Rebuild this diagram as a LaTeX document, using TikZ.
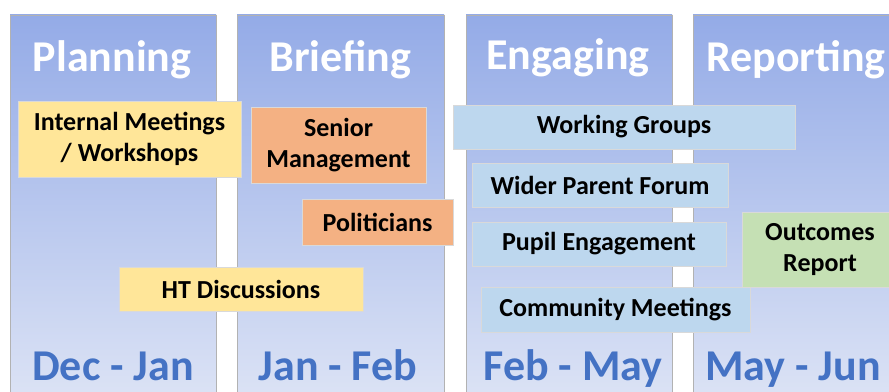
\documentclass[tikz,border=0pt]{standalone}
\usepackage{fontspec}
\setmainfont{Carlito}
\usepackage{tikz}
\definecolor{coltop}{HTML}{94ABE7}
\definecolor{colbot}{HTML}{DCE3F5}
\definecolor{yellowbox}{HTML}{FFE699}
\definecolor{orangebox}{HTML}{F4B183}
\definecolor{bluebox}{HTML}{BDD7EE}
\definecolor{greenbox}{HTML}{C5E0B4}
\definecolor{monthblue}{HTML}{4472C4}

\begin{document}
\begin{tikzpicture}[x=0.75pt,y=-0.75pt,
	phase/.style={draw=black!30,line width=0.4pt,top color=coltop,bottom color=colbot},
	head/.style={anchor=base,text=white,font=\bfseries\fontsize{33}{36}\selectfont},
	months/.style={anchor=base,text=monthblue,font=\bfseries\fontsize{33}{36}\selectfont},
	task/.style={draw=black!15,line width=0.3pt,align=center,inner sep=0pt,
		font=\bfseries\fontsize{19.5}{23.3}\selectfont}]
	\useasboundingbox (0,0) rectangle (889,392);
	\clip (0,0) rectangle (889,392);
	\fill[white] (0,0) rectangle (889,392);
	\draw[phase] (10,15) rectangle (216,400);
	\draw[phase] (237,15) rectangle (444,400);
	\draw[phase] (466,15) rectangle (672,400);
	\draw[phase] (693,15) rectangle (899,400);
	\node[head] (planning) at (112,72) {Planning};
	\node[head] (briefing) at (340.5,72) {Briefing};
	\node[head] (engaging) at (568,70) {Engaging};
	\node[head] (reporting) at (796,72) {Reporting};
	\node[months] (decjan) at (113,380) {Dec - Jan};
	\node[months] (janfeb) at (338,380) {Jan - Feb};
	\node[months] (febmay) at (573,380) {Feb - May};
	\node[months] (mayjun) at (793,380) {May - Jun};
	\node[task,fill=yellowbox,minimum width=223*0.75pt,minimum height=76*0.75pt] (internal) at (129.5,139) {Internal Meetings\\/ Workshops};
	\node[task,fill=orangebox,minimum width=175*0.75pt,minimum height=76*0.75pt] (senior) at (338.5,145) {Senior\\Management};
	\node[task,fill=orangebox,minimum width=151*0.75pt,minimum height=46*0.75pt] (politicians) at (377.5,222) {Politicians};
	\node[task,fill=yellowbox,minimum width=244*0.75pt,minimum height=44*0.75pt] (htdisc) at (241,289) {HT Discussions};
	\node[task,fill=bluebox,minimum width=342*0.75pt,minimum height=44*0.75pt] (working) at (624,127) {Working Groups};
	\node[task,fill=bluebox,minimum width=256*0.75pt,minimum height=44*0.75pt] (wider) at (600,185) {Wider Parent Forum};
	\node[task,fill=bluebox,minimum width=254*0.75pt,minimum height=44*0.75pt] (pupil) at (599,244) {Pupil Engagement};
	\node[task,fill=greenbox,minimum width=156*0.75pt,minimum height=75*0.75pt] (outcomes) at (820,249.5) {Outcomes\\Report};
	\node[task,fill=bluebox,minimum width=269*0.75pt,minimum height=45*0.75pt] (community) at (615.5,309.5) {Community Meetings};
\end{tikzpicture}
\end{document}
